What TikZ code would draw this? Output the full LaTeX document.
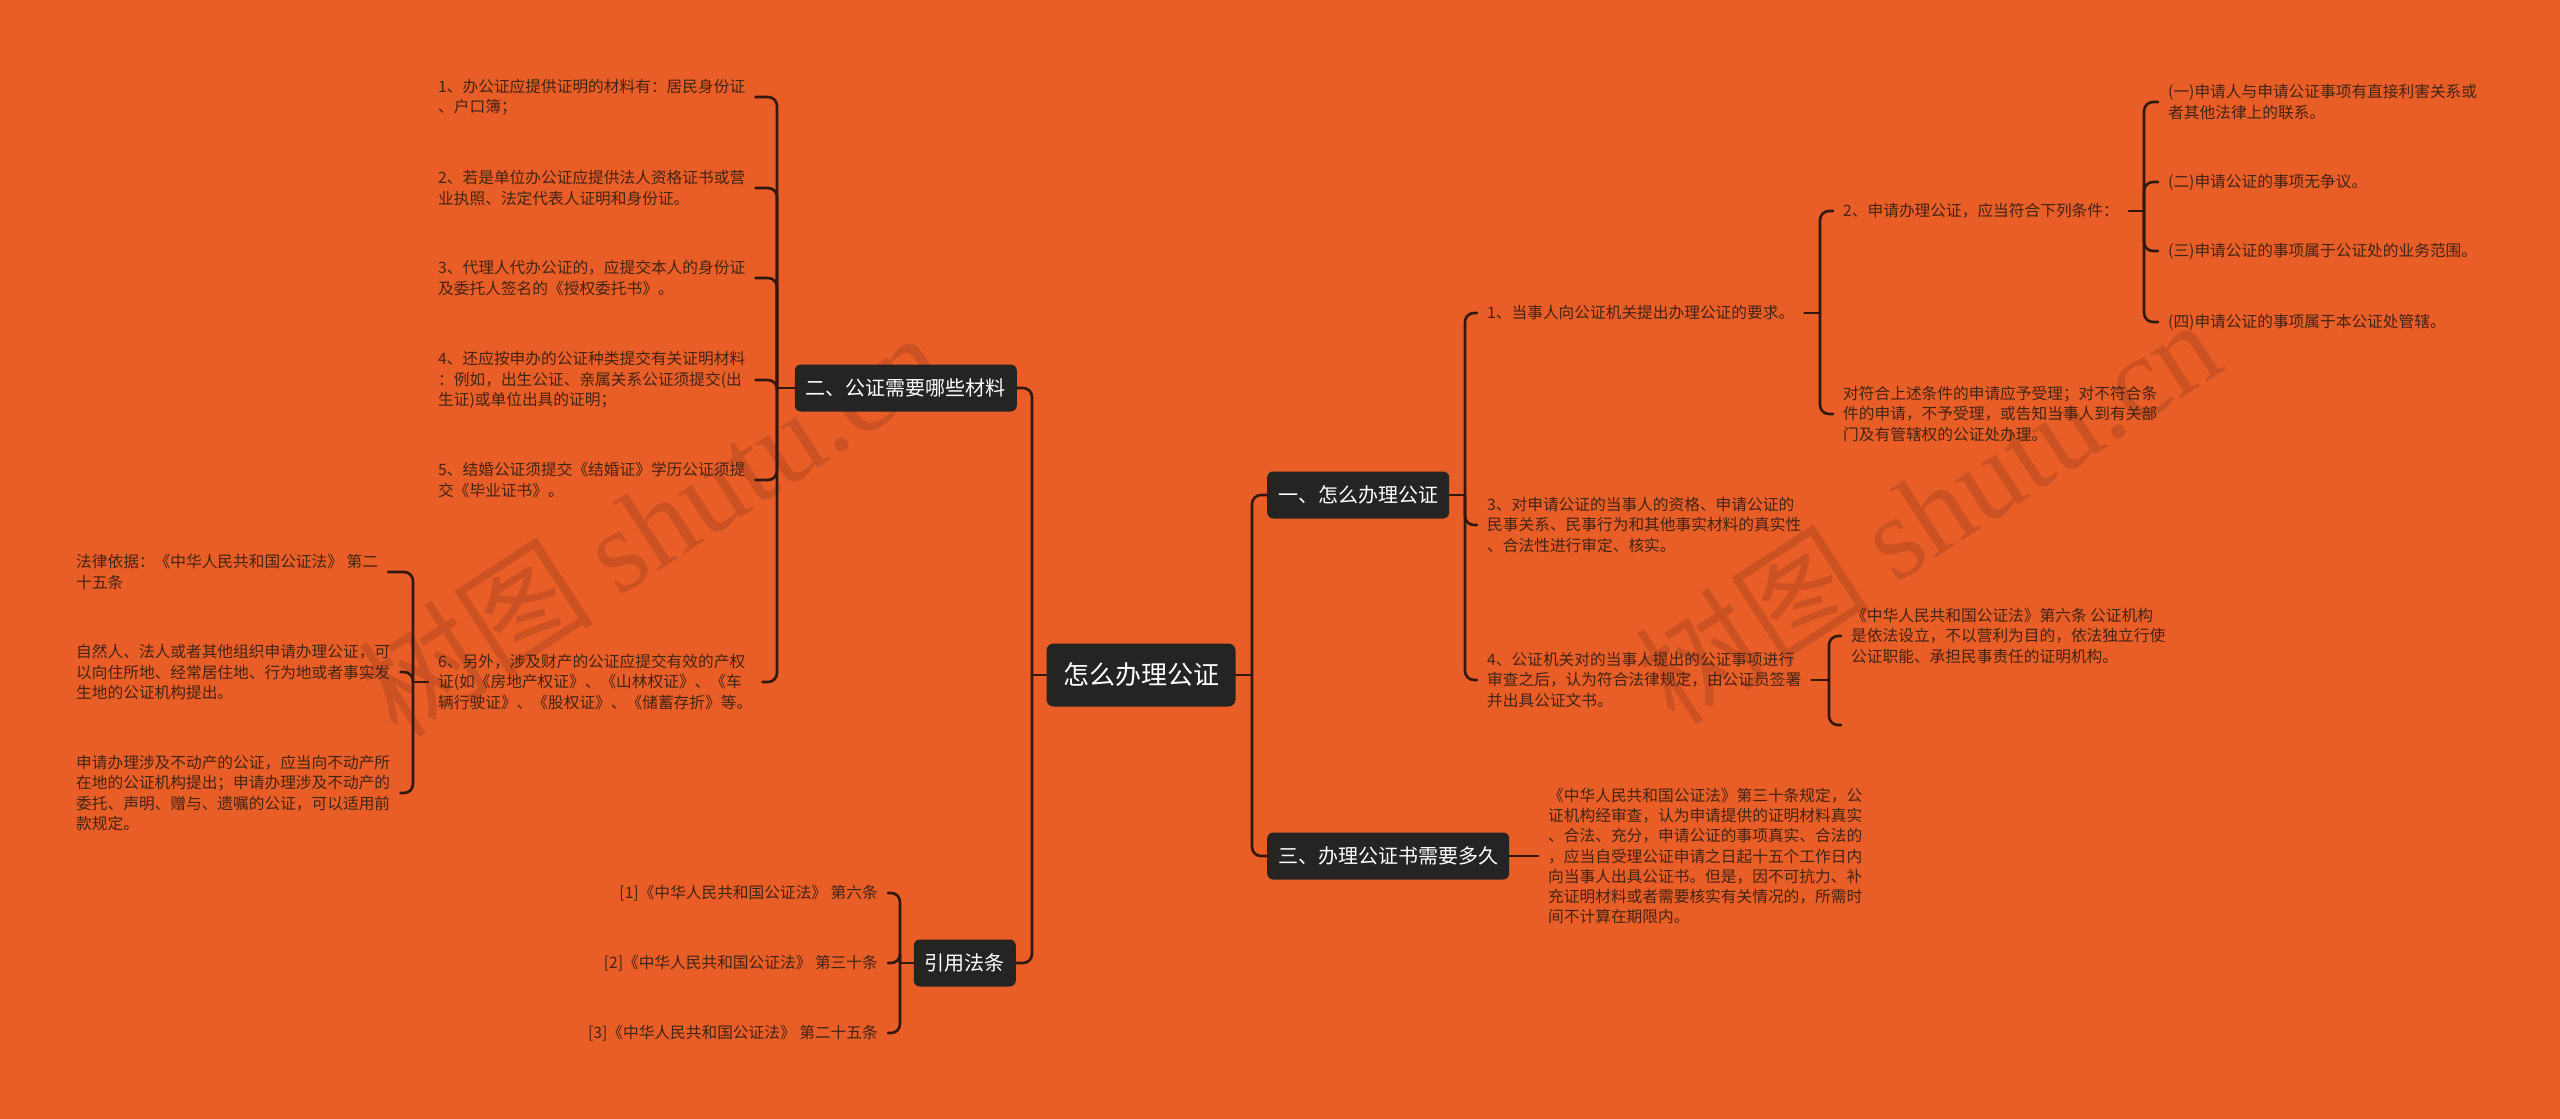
\documentclass[tikz,border=0pt]{standalone}
\usepackage{fontspec}
\setmainfont{Noto Sans CJK SC}
\newfontfamily\wmlatin{Liberation Serif}
\definecolor{bgC}{RGB}{233,94,39}
\definecolor{boxC}{RGB}{38,36,35}
\definecolor{lineC}{RGB}{48,24,14}
\definecolor{txtC}{RGB}{66,36,22}
\definecolor{wmC}{RGB}{150,58,28}
\begin{document}
\begin{tikzpicture}[x=1pt,y=-1pt,
  conn/.style={draw=lineC, line width=2.6pt, rounded corners=9pt, line cap=round},
  topic/.style={fill=boxC, text=white, rounded corners=6pt, font=\fontsize{20}{24}\selectfont, inner xsep=11pt, minimum height=47pt},
  rootbox/.style={fill=boxC, text=white, rounded corners=7pt, font=\fontsize{26}{30}\selectfont, inner xsep=16.5pt, minimum height=63pt},
  leaf/.style={text=txtC, font=\fontsize{15.7}{20.3}\selectfont, align=left, inner xsep=10pt, inner ysep=2pt},
  rleaf/.style={leaf, align=right},
  wm/.style={text=wmC, opacity=0.35, rotate=33, font=\fontsize{118}{120}\selectfont}
]
\useasboundingbox (0,0) rectangle (2560,1119);
\fill[bgC] (0,0) rectangle (2560,1119);

% watermarks
\node[wm] (wm1) at (650,523) {树图 {\wmlatin shutu.cn}};
\node[wm] (wm2) at (1927,510) {树图 {\wmlatin shutu.cn}};

% main nodes
\node[rootbox] (root) at (1141,675) {怎么办理公证};
\node[topic, anchor=east] (n2) at (1017,388) {二、公证需要哪些材料};
\node[topic, anchor=east] (n4) at (1016,963) {引用法条};
\node[topic, anchor=west] (n1) at (1267,495) {一、怎么办理公证};
\node[topic, anchor=west] (n3) at (1267,856) {三、办理公证书需要多久};

% left: children of n2
\node[leaf, anchor=west] (a1) at (428,97) {1、办公证应提供证明的材料有：居民身份证\\、户口簿；};
\node[leaf, anchor=west] (a2) at (428,188) {2、若是单位办公证应提供法人资格证书或营\\业执照、法定代表人证明和身份证。};
\node[leaf, anchor=west] (a3) at (428,278) {3、代理人代办公证的，应提交本人的身份证\\及委托人签名的《授权委托书》。};
\node[leaf, anchor=west] (a4) at (428,380) {4、还应按申办的公证种类提交有关证明材料\\：例如，出生公证、亲属关系公证须提交(出\\生证)或单位出具的证明；};
\node[leaf, anchor=west] (a5) at (428,480) {5、结婚公证须提交《结婚证》学历公证须提\\交《毕业证书》。};
\node[leaf, anchor=west] (a6) at (428,682) {6、另外，涉及财产的公证应提交有效的产权\\证(如《房地产权证》、《山林权证》、《车\\辆行驶证》、《股权证》、《储蓄存折》等。};

% children of a6
\node[leaf, anchor=west] (b1) at (66,572) {法律依据：《中华人民共和国公证法》 第二\\十五条};
\node[leaf, anchor=west] (b2) at (66,672) {自然人、法人或者其他组织申请办理公证，可\\以向住所地、经常居住地、行为地或者事实发\\生地的公证机构提出。};
\node[leaf, anchor=west] (b3) at (66,793) {申请办理涉及不动产的公证，应当向不动产所\\在地的公证机构提出；申请办理涉及不动产的\\委托、声明、赠与、遗嘱的公证，可以适用前\\款规定。};

% children of n4
\node[rleaf, anchor=east] (r1) at (888,893) {[1]《中华人民共和国公证法》 第六条};
\node[rleaf, anchor=east] (r2) at (888,963) {[2]《中华人民共和国公证法》 第三十条};
\node[rleaf, anchor=east] (r3) at (888,1033) {[3]《中华人民共和国公证法》 第二十五条};

% right: children of n1
\node[leaf, anchor=west] (c1) at (1477,313) {1、当事人向公证机关提出办理公证的要求。};
\node[leaf, anchor=west] (c3) at (1477,525) {3、对申请公证的当事人的资格、申请公证的\\民事关系、民事行为和其他事实材料的真实性\\、合法性进行审定、核实。};
\node[leaf, anchor=west] (c4) at (1477,680) {4、公证机关对的当事人提出的公证事项进行\\审查之后，认为符合法律规定，由公证员签署\\并出具公证文书。};

% children of c1
\node[leaf, anchor=west] (d2) at (1833,211) {2、申请办理公证，应当符合下列条件：};
\node[leaf, anchor=west] (d5) at (1833,414) {对符合上述条件的申请应予受理；对不符合条\\件的申请，不予受理，或告知当事人到有关部\\门及有管辖权的公证处办理。};

% children of d2
\node[leaf, anchor=west] (e1) at (2158,102) {(一)申请人与申请公证事项有直接利害关系或\\者其他法律上的联系。};
\node[leaf, anchor=west] (e2) at (2158,182) {(二)申请公证的事项无争议。};
\node[leaf, anchor=west] (e3) at (2158,251) {(三)申请公证的事项属于公证处的业务范围。};
\node[leaf, anchor=west] (e4) at (2158,322) {(四)申请公证的事项属于本公证处管辖。};

% children of c4
\node[leaf, anchor=west] (f1) at (1841,636) {《中华人民共和国公证法》第六条 公证机构\\是依法设立，不以营利为目的，依法独立行使\\公证职能、承担民事责任的证明机构。};
\coordinate (f2) at (1841,725);

% child of n3
\node[leaf, anchor=west] (g1) at (1538,856) {《中华人民共和国公证法》第三十条规定，公\\证机构经审查，认为申请提供的证明材料真实\\、合法、充分，申请公证的事项真实、合法的\\，应当自受理公证申请之日起十五个工作日内\\向当事人出具公证书。但是，因不可抗力、补\\充证明材料或者需要核实有关情况的，所需时\\间不计算在期限内。};

% bracket junctions
\coordinate (tl) at (1032,675);
\coordinate (tr) at (1252,675);
\coordinate (bn2) at (777,388);
\coordinate (ba6) at (413,682);
\coordinate (bn4) at (900,963);
\coordinate (bn1) at (1465,495);
\coordinate (bc1) at (1820,313);
\coordinate (bd2) at (2144,211);
\coordinate (bc4) at (1829,680);

% connectors: root
\draw[conn] (root.west) -- (tl);
\draw[conn] (root.east) -- (tr);
\draw[conn] (tl) |- (n2.east);
\draw[conn] (tl) |- (n4.east);
\draw[conn] (tr) |- (n1.west);
\draw[conn] (tr) |- (n3.west);

% n2 bracket
\draw[conn] (n2.west) -- (bn2);
\foreach \c in {a1,a2,a3,a4,a5,a6} \draw[conn] (bn2) |- (\c.east);

% a6 bracket
\draw[conn] (a6.west) -- (ba6);
\foreach \c in {b1,b2,b3} \draw[conn] (ba6) |- (\c.east);

% n4 bracket
\draw[conn] (n4.west) -- (bn4);
\foreach \c in {r1,r2,r3} \draw[conn] (bn4) |- (\c.east);

% n1 bracket
\draw[conn] (n1.east) -- (bn1);
\foreach \c in {c1,c3,c4} \draw[conn] (bn1) |- (\c.west);

% c1 bracket
\draw[conn] (c1.east) -- (bc1);
\foreach \c in {d2,d5} \draw[conn] (bc1) |- (\c.west);

% d2 bracket
\draw[conn] (d2.east) -- (bd2);
\foreach \c in {e1,e2,e3,e4} \draw[conn] (bd2) |- (\c.west);

% c4 bracket
\draw[conn] (c4.east) -- (bc4);
\draw[conn] (bc4) |- (f1.west);
\draw[conn] (bc4) |- (f2);

% n3 to child
\draw[conn] (n3.east) -- (g1.west);
\end{tikzpicture}
\end{document}
